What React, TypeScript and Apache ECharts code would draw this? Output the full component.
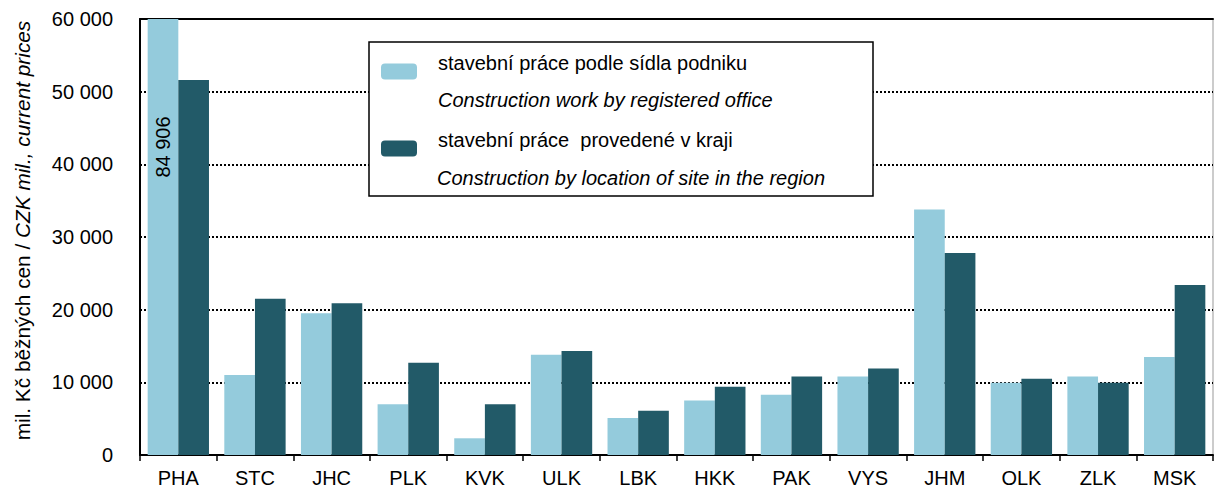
import React, { useEffect, useRef } from "react";
import * as echarts from "echarts";

const categories = ["PHA", "STC", "JHC", "PLK", "KVK", "ULK", "LBK", "HKK", "PAK", "VYS", "JHM", "OLK", "ZLK", "MSK"];
const byOffice = [84906, 11000, 19500, 7000, 2300, 13800, 5100, 7500, 8300, 10800, 33800, 9950, 10800, 13500];
const bySite = [51600, 21500, 20900, 12700, 7000, 14300, 6100, 9400, 10800, 11900, 27800, 10500, 9950, 23400];
const seriesNames = ["stavební práce podle sídla podniku", "stavební práce  provedené v kraji"];
const seriesNamesEn = ["Construction work by registered office", "Construction by location of site in the region"];
const yMin = 0;
const yMax = 60000;
const yStep = 10000;

const FONT = "'Liberation Sans', Arial, sans-serif";
const FS = 20;
const fmt = (v: number) => String(v).replace(/\B(?=(\d{3})+(?!\d))/g, " ");

export default function App() {
  const ref = useRef<HTMLDivElement>(null);
  useEffect(() => {
    if (!ref.current) return;
    const chart = echarts.init(ref.current, null, { renderer: "svg" });
    chart.setOption({
      animation: false,
      backgroundColor: "#fff",
      textStyle: { fontFamily: FONT },
      grid: { left: 140, right: 3, top: 19, bottom: 37, show: true, borderColor: "#999", borderWidth: 1 },
      legend: {
        orient: "vertical",
        left: 381,
        top: 53,
        padding: 0,
        itemWidth: 36,
        itemHeight: 16,
        itemGap: 40,
        selectedMode: false,
        data: seriesNames,
        formatter: (name: string) => `{a|${name}}`,
        textStyle: {
          rich: {
            a: { fontSize: FS, lineHeight: 20, height: 20, color: "#000", fontFamily: FONT, padding: [0, 0, 17, 16] },
          },
        },
        z: 5,
      },
      graphic: [
        {
          type: "rect",
          z: 3,
          shape: { x: 369, y: 42, width: 504, height: 154 },
          style: { fill: "#fff", stroke: "#000", lineWidth: 1.5 },
        },
        {
          type: "text",
          z: 5,
          x: 438,
          y: 100,
          style: { text: seriesNamesEn[0], fontSize: FS, fontStyle: "italic", fontFamily: FONT, fill: "#000", verticalAlign: "middle" },
        },
        {
          type: "text",
          z: 5,
          x: 437,
          y: 178,
          style: { text: seriesNamesEn[1], fontSize: FS, fontStyle: "italic", fontFamily: FONT, fill: "#000", verticalAlign: "middle" },
        },
      ],
      xAxis: [
        {
          type: "category",
          data: categories,
          axisLine: { lineStyle: { color: "#000", width: 2 } },
          axisTick: { show: true, length: 6, lineStyle: { color: "#000", width: 1.5 } },
          axisLabel: { color: "#000", fontSize: FS, margin: 13, fontFamily: FONT },
        },
        {
          type: "category",
          position: "top",
          data: categories,
          axisLine: { show: true, lineStyle: { color: "#000", width: 2 } },
          axisTick: { show: false },
          axisLabel: { show: false },
        },
      ],
      yAxis: {
        type: "value",
        min: yMin,
        max: yMax,
        interval: yStep,
        name: "{s| }{a|mil. Kč běžných cen / }{b|CZK mil., current prices}",
        nameLocation: "middle",
        nameGap: 107,
        nameRotate: 90,
        nameTextStyle: {
          rich: {
            s: { fontSize: 20.8, width: 13 },
            a: { fontSize: 20.8, color: "#000", fontFamily: FONT },
            b: { fontSize: 20.8, color: "#000", fontFamily: FONT, fontStyle: "italic" },
          },
        },
        axisLine: { show: true, lineStyle: { color: "#000", width: 2 } },
        axisTick: { show: false },
        axisLabel: { color: "#000", fontSize: FS, margin: 27, fontFamily: FONT, formatter: (v: number) => fmt(v) },
        splitLine: { show: true, lineStyle: { color: "#000", type: [2, 2], width: 2 } },
      },
      series: [
        {
          name: seriesNames[0],
          type: "bar",
          clip: true,
          barGap: "0%",
          barCategoryGap: "20%",
          itemStyle: { color: "#94CBDC" },
          data: byOffice.map((v, i) =>
            i === 0 && v > yMax
              ? {
                  value: v,
                  label: {
                    show: true,
                    formatter: () => fmt(v),
                    position: ["50%", 128],
                    rotate: 90,
                    align: "center",
                    verticalAlign: "middle",
                    color: "#000",
                    fontSize: FS,
                    fontFamily: FONT,
                  },
                }
              : v
          ),
        },
        {
          name: seriesNames[1],
          type: "bar",
          clip: true,
          barGap: "0%",
          barCategoryGap: "20%",
          itemStyle: { color: "#225A68" },
          data: bySite,
        },
      ],
    });
    return () => chart.dispose();
  }, []);
  return <div ref={ref} style={{ position: "fixed", left: 0, top: 0, width: 1216, height: 492 }} />;
}
